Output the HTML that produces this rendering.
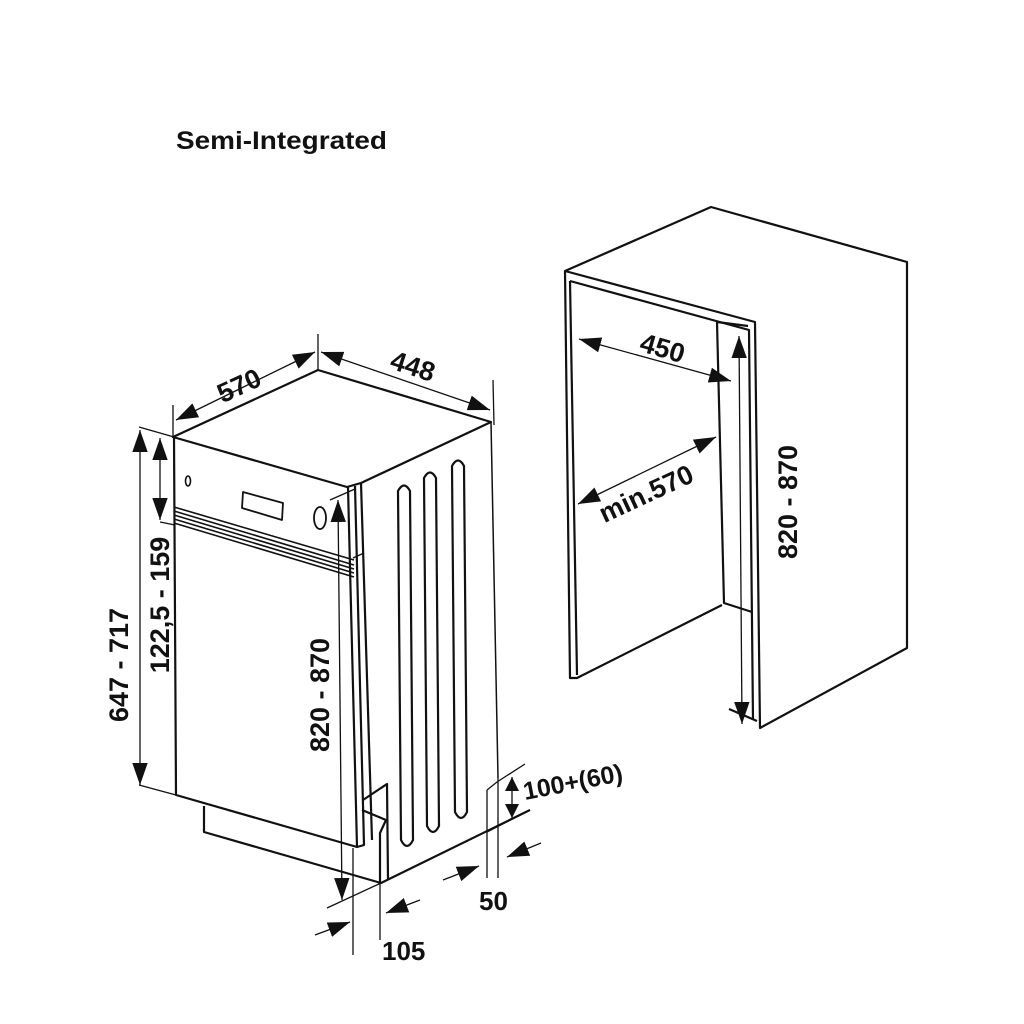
<!DOCTYPE html>
<html><head><meta charset="utf-8"><style>
html,body{margin:0;padding:0;background:#fff}
svg{display:block}
text{font-family:"Liberation Sans",Arial,sans-serif;font-weight:bold;fill:#111}
</style></head><body>
<svg width="1024" height="1024" viewBox="0 0 1024 1024" xmlns="http://www.w3.org/2000/svg">
<defs>
<marker id="a" viewBox="0 0 10 10" refX="10" refY="5" markerWidth="14" markerHeight="14" markerUnits="userSpaceOnUse" orient="auto-start-reverse"><path d="M0,0 L10,5 L0,10 z" fill="#111"/></marker>
<marker id="b" viewBox="0 0 10 10" refX="10" refY="5" markerWidth="22" markerHeight="22" markerUnits="userSpaceOnUse" orient="auto-start-reverse"><path d="M0,1.5 L10,5 L0,8.5 z" fill="#111"/></marker>
</defs>
<text x="176" y="149" font-size="25" textLength="211" lengthAdjust="spacingAndGlyphs">Semi-Integrated</text>

<g fill="none" stroke="#111" stroke-width="2.2" stroke-linejoin="round">
<path d="M173,437 L318,370 L491,422 L361,483 L347,487 Z"/>
<path d="M174,437 L176,795 L357,847 L348,487"/>
<path d="M355,486 L364,845 L357,847"/>
<path d="M361,483 L372,840"/>
<path d="M491,422 L498,778" stroke-width="1.5"/>
<path d="M174,507 L354,560 M174,511 L354,565 M174,515 L354,569 M174,519 L354,573 M174,523 L354,577" stroke-width="1.6"/>
<path d="M353,558 L364,553" stroke-width="1.5"/>
<ellipse cx="188" cy="481" rx="2.5" ry="5" stroke-width="1.6"/>
<path d="M243,492 L283,503 L282,520 L242,508 Z" stroke-width="1.8"/>
<ellipse cx="320" cy="518" rx="6" ry="11" stroke-width="1.8"/>
<path d="M398,491 Q404,480 410,491 L413,840 Q407,852 401,840 Z"/>
<path d="M424,478 Q430,467 436,478 L439,826 Q433,838 427,826 Z"/>
<path d="M452,466 Q458,455 464,466 L467,812 Q461,824 455,812 Z"/>
<path d="M204,806 L204,832 L381,883 L530,810"/>
<path d="M363,800 L387,784 L388,880"/>
<path d="M362,810 L386,820 L380,833 L380,882"/>
<path d="M565,271 L711,207 L907,262 L907,648 L760,728 L755,322 L565,271 Z"/>
<path d="M565,271 L570,678 L577,678 L722,605"/>
<path d="M570,281 L577,675"/>
<path d="M570,281 L749,330 L753,720"/>
<path d="M717,322 L748,326"/>
<path d="M717,322 L724,603 L752,612"/>
<path d="M729,709 L757,721"/>
</g>

<g fill="none" stroke="#111" stroke-width="1.3">
<path d="M173,405 L173,437 M318,334 L318,370 M493,380 L494,425"/>
<path d="M176,420 L315,352" marker-start="url(#b)" marker-end="url(#b)"/>
<path d="M321,352 L490,410" marker-start="url(#b)" marker-end="url(#b)"/>
<path d="M139,427 L174,437 M139,785 L176,795 M160,522 L175,525"/>
<path d="M140,430 L140,785" marker-start="url(#b)" marker-end="url(#b)"/>
<path d="M160,438 L160,520" marker-start="url(#b)" marker-end="url(#b)"/>
<path d="M330,500 L355,489 M327,908 L381,883"/>
<path d="M338,500 L342,900" marker-start="url(#b)" marker-end="url(#b)"/>
<path d="M353,848 L353,955 M380,882 L380,940"/>
<path d="M315,935 L350,922" marker-end="url(#b)"/>
<path d="M420,900 L386,913" marker-end="url(#b)"/>
<path d="M487,790 L497,782 L525,764 M487,790 L487,878 M498,778 L498,878 M487,832 L530,810"/>
<path d="M443,880 L479,866" marker-end="url(#b)"/>
<path d="M541,843 L507,857" marker-end="url(#b)"/>
<path d="M512,777 L512,818" marker-start="url(#a)" marker-end="url(#a)"/>
<path d="M579,339 L731,381" marker-start="url(#b)" marker-end="url(#b)"/>
<path d="M578,504 L716,437" marker-start="url(#b)" marker-end="url(#b)"/>
<path d="M739,336 L742,724" marker-start="url(#b)" marker-end="url(#b)"/>
</g>

<g font-size="27">
<text transform="translate(243,394) rotate(-25)" text-anchor="middle">570</text>
<text transform="translate(410,375) rotate(18)" text-anchor="middle">448</text>
<text transform="translate(128,665) rotate(-90)" text-anchor="middle">647 - 717</text>
<text transform="translate(169,605) rotate(-90)" text-anchor="middle">122,5 - 159</text>
<text transform="translate(329,695) rotate(-90)" text-anchor="middle">820 - 870</text>
<text x="382" y="960" font-size="26">105</text>
<text x="479" y="910" font-size="26">50</text>
<text transform="translate(525,800) rotate(-11)" font-size="25">100+(60)</text>
<text transform="translate(660,357) rotate(16)" text-anchor="middle">450</text>
<text transform="translate(650,502) rotate(-25)" text-anchor="middle">min.570</text>
<text transform="translate(797,502) rotate(-90)" text-anchor="middle">820 - 870</text>
</g>
</svg>
</body></html>
